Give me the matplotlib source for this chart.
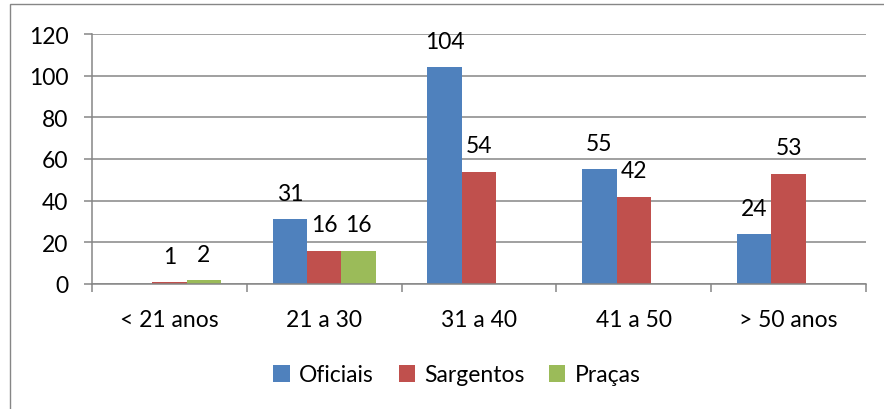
import matplotlib
matplotlib.use("Agg")
import matplotlib.pyplot as plt
from matplotlib.patches import Rectangle, Patch
import numpy as np

categories = ["< 21 anos", "21 a 30", "31 a 40", "41 a 50", "> 50 anos"]
series_names = ["Oficiais", "Sargentos", "Praças"]
oficiais = [0, 31, 104, 55, 24]
sargentos = [1, 16, 54, 42, 53]
pracas = [2, 16, 0, 0, 0]
colors = ["#4F81BD", "#C0504D", "#9BBB59"]
yticks = [0, 20, 40, 60, 80, 100, 120]

plt.rcParams['font.family'] = ['Lato', 'DejaVu Sans']
FS = 16.5

fig = plt.figure(figsize=(8.84, 4.10), dpi=100)
W, H = 884, 410
ax = fig.add_axes([92 / W, (H - 285) / H, (866 - 92) / W, 250 / H])

# outer chart border (cropped at right / bottom)
fig.patches.append(Rectangle((10 / W, -0.1), 1.2, (H - 5) / H + 0.1,
                             transform=fig.transFigure, fill=False,
                             edgecolor="#868686", linewidth=1.0, zorder=0))

x = np.arange(len(categories))
bw = 1 / 4.5
data = [oficiais, sargentos, pracas]
for i, (vals, c) in enumerate(zip(data, colors)):
    pos = x + (i - 1) * bw
    ax.bar(pos, vals, width=bw, color=c, zorder=3, label=series_names[i])
    for p, v in zip(pos, vals):
        if v > 0:
            ax.annotate(str(v), (p, v), xytext=(0, 11), textcoords="offset points",
                        ha="center", va="bottom", fontsize=FS, color="black")

ax.set_xlim(-0.5, len(categories) - 0.5)
ax.set_ylim(0, 120)
ax.set_yticks(yticks)
ax.set_yticklabels([str(t) for t in yticks], fontsize=FS)
ax.yaxis.grid(True, color="#868686", linewidth=1.1, zorder=0)
ax.set_axisbelow(True)

ax.set_xticks(np.arange(-0.5, len(categories), 1.0))
ax.set_xticklabels([])
ax.set_xticks(x, minor=True)
ax.set_xticklabels(categories, minor=True, fontsize=FS)
ax.tick_params(axis="x", which="major", length=6, width=1.1, color="#868686", direction="out")
ax.tick_params(axis="x", which="minor", length=0, pad=18)
ax.tick_params(axis="y", length=6, width=1.1, color="#868686", pad=11)

for s in ["top", "right"]:
    ax.spines[s].set_visible(False)
for s in ["left", "bottom"]:
    ax.spines[s].set_color("#868686")
    ax.spines[s].set_linewidth(1.1)
    ax.spines[s].set_zorder(4)

handles = [Patch(facecolor=c, edgecolor="none") for c in colors]
fig.legend(handles, series_names, loc="center", bbox_to_anchor=(457 / W, (H - 376) / H),
           ncol=3, frameon=False, fontsize=FS, handlelength=0.7, handleheight=0.7,
           handletextpad=0.4, columnspacing=1.1)

fig.savefig("out.png", dpi=100)
